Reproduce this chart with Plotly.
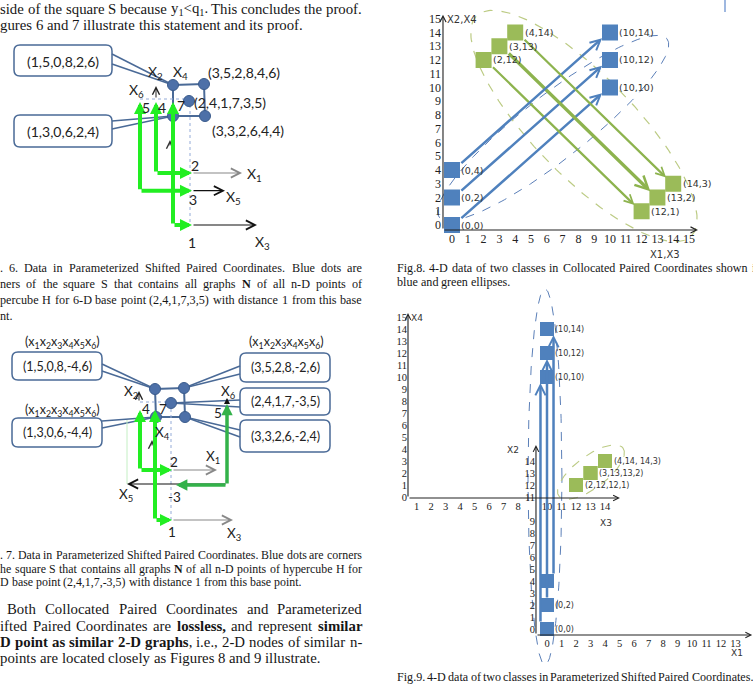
import numpy as np
import plotly.graph_objects as go

W, H = 753, 684

# ------------------------------------------------------------------ data
blue_x1 = [0, 0, 0]
blue_x2 = [0, 2, 4]
blue_x3 = [10, 10, 10]
blue_x4 = [10, 12, 14]
green_x1 = [2, 3, 4]
green_x2 = [12, 13, 14]
green_x3 = [12, 13, 14]
green_x4 = [1, 2, 3]

f8_ticks = list(range(0, 16))
f9_x3_ticks = [1, 2, 3, 4, 5, 6, 7, 8, 10, 11, 12, 13, 14]
f9_x4_ticks = list(range(0, 16))
f9_x1_ticks = list(range(0, 14))
f9_x2_ticks = [0, 1, 2, 3, 4, 5, 6, 7, 8, 9, 11, 12, 13, 14]
f9_upper_labels = ["(10,10)", "(10,12)", "(10,14)"]
f9_lower_labels = ["(0,0)", "(0,2)", ""]
f9_green_labels = ["(2,12,12,1)", "(3,13,13,2)", "(4,14, 14,3)"]

fig6_base = "(2,4,1,7,3,5)"
fig6_upper_left = "(1,5,0,8,2,6)"
fig6_upper_right = "(3,5,2,8,4,6)"
fig6_lower_left = "(1,3,0,6,2,4)"
fig6_lower_right = "(3,3,2,6,4,4)"
fig7_base = "(2,4,1,7,-3,5)"
fig7_upper_left = "(1,5,0,8,-4,6)"
fig7_upper_right = "(3,5,2,8,-2,6)"
fig7_lower_left = "(1,3,0,6,-4,4)"
fig7_lower_right = "(3,3,2,6,-2,4)"
tuple_header = "(x<sub>1</sub>x<sub>2</sub>x<sub>3</sub>x<sub>4</sub>x<sub>5</sub>x<sub>6</sub>)"

# text lines: (text, x_left, x_right or None, y_center, size)
top_lines = [
    ("side of the square S because y_1<q_1. This concludes the proof.", 0, 362, 8.5, 14.8),
    ("gures 6 and 7 illustrate this statement and its proof.", 0, None, 25, 14.8),
]
fig6_caption = [
    (". 6. Data in Parameterized Shifted Paired Coordinates.  Blue dots are", 0, 362, 268, 12.2),
    ("ners of the square S that contains all graphs *N* of all n-D points of", 0, 362, 284, 12.2),
    ("percube H for 6-D base point (2,4,1,7,3,5) with distance 1 from this base", 0, 362, 300, 12.2),
    ("nt.", 0, None, 316, 12.2),
]
fig7_caption = [
    (". 7. Data in Parameterized Shifted Paired Coordinates. Blue dots are corners", 0, 362, 555, 11.9),
    ("he square S that contains all graphs *N* of all n-D points of hypercube H for", 0, 362, 568.5, 11.9),
    ("D base point (2,4,1,7,-3,5) with distance 1 from this base point.", 0, None, 582, 11.9),
]
paragraph = [
    ("Both Collocated Paired Coordinates and Parameterized", 7, 362, 609, 14.8),
    ("ifted Paired Coordinates are *lossless,* and represent *similar*", 0, 362, 625.5, 14.8),
    ("*D point as similar 2-D graphs*, i.e., 2-D nodes of similar n-", 0, 362, 641.5, 14.8),
    ("points are located closely as Figures 8 and 9 illustrate.", 0, None, 657.5, 14.8),
]
fig8_caption = [
    ("Fig.8. 4-D data of two classes in Collocated Paired Coordinates shown i", 397, 755, 268, 12.1),
    ("blue and green ellipses.", 397, None, 282, 12.1),
]
fig9_caption = [
    ("Fig.9. 4-D data of two classes in Parameterized Shifted Paired Coordinates.", 397, 753, 677, 12.1),
]

# ------------------------------------------------------------------ styles
BLUE = "#4f81bd"
GREEN = "#9bbb59"
GREEN_AR = "#8db34e"
LIME = "#22ee22"
DKGREEN = "#33b24a"
BOXC = "#4a6a97"
DOTC = "#4d70a8"
SERIF = "Liberation Serif"
SANS = "DejaVu Sans"
DIAG = "Lato"

fig = go.Figure()
shapes = []
annos = []

PAGE = ("x4", "y4")


def arrow(x0, y0, x1, y1, color, width, head=5, size=1.0, ref=PAGE):
    annos.append(dict(x=x1, y=y1, ax=x0, ay=y0, xref=ref[0], yref=ref[1],
                      axref=ref[0], ayref=ref[1], showarrow=True, arrowhead=head,
                      arrowsize=size, arrowwidth=width, arrowcolor=color, text="",
                      standoff=0, startstandoff=0))


def label(x, y, text, size, color="#222", family=DIAG, xanchor="center", ref=PAGE):
    annos.append(dict(x=x, y=y, text=text, showarrow=False, xref=ref[0], yref=ref[1],
                      xanchor=xanchor, yanchor="middle", borderpad=0, borderwidth=0,
                      font=dict(family=family, size=size, color=color)))


def seg(x0, y0, x1, y1, color, width=1.5, dash="solid"):
    shapes.append(dict(type="line", xref="x4", yref="y4", x0=x0, y0=y0, x1=x1, y1=y1,
                       layer="below", line=dict(color=color, width=width, dash=dash)))


def rbox(x0, y0, x1, y1, r=6):
    p = (f"M{x0+r},{y0} L{x1-r},{y0} Q{x1},{y0} {x1},{y0+r} L{x1},{y1-r} "
         f"Q{x1},{y1} {x1-r},{y1} L{x0+r},{y1} Q{x0},{y1} {x0},{y1-r} "
         f"L{x0},{y0+r} Q{x0},{y0} {x0+r},{y0} Z")
    shapes.append(dict(type="path", xref="x4", yref="y4", path=p, layer="below",
                       line=dict(color=BOXC, width=1.5), fillcolor="white"))


# ----- justified serif text
TW = {' ': 250, 'a': 444, 'b': 500, 'c': 444, 'd': 500, 'e': 444, 'f': 333, 'g': 500,
      'h': 500, 'i': 278, 'j': 278, 'k': 500, 'l': 278, 'm': 778, 'n': 500, 'o': 500,
      'p': 500, 'q': 500, 'r': 333, 's': 389, 't': 278, 'u': 500, 'v': 500, 'w': 722,
      'x': 500, 'y': 500, 'z': 444, 'A': 722, 'B': 667, 'C': 667, 'D': 722, 'E': 611,
      'F': 556, 'G': 722, 'H': 722, 'I': 333, 'J': 389, 'K': 722, 'L': 611, 'M': 889,
      'N': 722, 'O': 722, 'P': 556, 'Q': 722, 'R': 667, 'S': 556, 'T': 611, 'U': 722,
      'V': 722, 'W': 944, 'X': 722, 'Y': 722, 'Z': 611, '.': 250, ',': 250, '(': 333,
      ')': 333, '-': 333, '<': 564}
TWB = {'a': 500, 'b': 556, 'd': 556, 'h': 556, 'm': 833, 'n': 556, 'p': 556,
       'r': 444, 't': 333, 'u': 556}


def cw(ch, bold):
    if bold and ch in TWB:
        return TWB[ch]
    return TW.get(ch, 500)


def parse_words(s):
    words, cur, bold, sub = [], [], False, False
    for ch in s:
        if ch == '*':
            bold = not bold
            continue
        if ch == '_':
            sub = True
            continue
        if ch == ' ':
            if cur:
                words.append(cur)
                cur = []
            continue
        cur.append((ch, bold, sub))
        sub = False
    if cur:
        words.append(cur)
    return words


def word_html(w):
    out = ""
    for ch, b, sb in w:
        c = "&lt;" if ch == "<" else ch
        if sb:
            c = f"<sub>{c}</sub>"
        if b:
            c = f"<b>{c}</b>"
        out += c
    return out


def word_width(w, size):
    return sum(cw(ch, b) * (0.65 if sb else 1.0) for ch, b, sb in w) * size / 1000.0


def place_lines(lines):
    for text, x0, x1, y, size in lines:
        words = parse_words(text)
        widths = [word_width(w, size) for w in words]
        if x1 is not None and len(words) > 1:
            gap = (x1 - x0 - sum(widths)) / (len(words) - 1)
        else:
            gap = 0.25 * size
        x = x0
        for w, wd in zip(words, widths):
            label(x, y, word_html(w), size, color="#161616", family=SERIF, xanchor="left")
            x += wd + gap


for block in (top_lines, fig6_caption, fig7_caption, paragraph, fig8_caption, fig9_caption):
    place_lines(block)

# =================================================================== Fig. 8
F8X0, F8XS, F8Y0, F8YS = 452, 15.8, 225, 13.75
f8_xr = [-1.0, 15.6]
f8_yr = [-1.5, 16.2]
f8_xline, f8_yline = -0.57, -0.36


def ell(c, u, v, n=240):
    t = np.linspace(0, 2 * np.pi, n)
    return (c[0] + u[0] * np.cos(t) + v[0] * np.sin(t),
            c[1] + u[1] * np.cos(t) + v[1] * np.sin(t))


ex, ey = ell((6.4, 7.05), (7.2, 6.5), (1.3, -1.8))
fig.add_trace(go.Scatter(x=ex, y=ey, mode="lines", xaxis="x", yaxis="y",
                         line=dict(color="#5b7fb8", width=1, dash="dash"), hoverinfo="skip"))
ex, ey = ell((8.35, 7.2), (6.8, -8.0), (2.25, 2.6))
fig.add_trace(go.Scatter(x=ex, y=ey, mode="lines", xaxis="x", yaxis="y",
                         line=dict(color="#bccb84", width=1.2, dash="dash"), hoverinfo="skip"))

for i in range(3):
    arrow(blue_x1[i] + 0.5, blue_x2[i] + 0.4, blue_x3[i] - 0.5, blue_x4[i] - 0.42,
          BLUE, 2.5, head=5, size=0.8, ref=("x", "y"))
    arrow(green_x1[i] + 0.5, green_x2[i] - 0.42, green_x3[i] - 0.45, green_x4[i] + 0.45,
          GREEN_AR, 2.2 if i != 1 else 3.2, head=5, size=0.8, ref=("x", "y"))

fig.add_trace(go.Scatter(x=blue_x1 + blue_x3, y=blue_x2 + blue_x4, mode="markers",
                         xaxis="x", yaxis="y",
                         marker=dict(symbol="square", size=16, color=BLUE, line=dict(width=0))))
fig.add_trace(go.Scatter(x=green_x1 + green_x3, y=green_x2 + green_x4, mode="markers",
                         xaxis="x", yaxis="y",
                         marker=dict(symbol="square", size=16, color=GREEN, line=dict(width=0))))
for xs, ys in ((blue_x1, blue_x2), (blue_x3, blue_x4), (green_x1, green_x2), (green_x3, green_x4)):
    for a, b in zip(xs, ys):
        label(a + 0.6, b, f"({a},{b})", 9.5, color="#333", family=SANS, xanchor="left", ref=("x", "y"))

arrow(f8_xline, f8_yline, 15.57, f8_yline, "#222", 1.1, head=5, size=1.1, ref=("x", "y"))
arrow(f8_xline, f8_yline, f8_xline, 15.3, "#222", 1.1, head=5, size=1.1, ref=("x", "y"))
label(447, 19, "X2,X4", 10, color="#333", family=SANS, xanchor="left")
label(665, 254, "X1,X3", 10, color="#333", family=SANS)

# =================================================================== Fig. 9
F9X0, F9XS, F9Y0, F9YS = 402, 14.5, 497, 12.0
F9_SHIFT_X, F9_SHIFT_Y = 10, -11          # origin of (X1,X2) inside (X3,X4)
f9_px = (395, 753)
f9_py = (672, 285)
f9A_xr = [(f9_px[0] - F9X0) / F9XS, (f9_px[1] - F9X0) / F9XS]
f9A_yr = [(F9Y0 - f9_py[0]) / F9YS, (F9Y0 - f9_py[1]) / F9YS]
f9B_xr = [v - F9_SHIFT_X for v in f9A_xr]
f9B_yr = [v - F9_SHIFT_Y for v in f9A_yr]

ex, ey = ell((9.86, 1.67), (1.17, 0), (0, 15.67))
fig.add_trace(go.Scatter(x=ex, y=ey, mode="lines", xaxis="x2", yaxis="y2",
                         line=dict(color="#5b7fb8", width=1, dash="dash"), hoverinfo="skip"))
ex, ey = ell((13.03, 2.08), (2.21, 2.0), (0.66, -1.07))
fig.add_trace(go.Scatter(x=ex, y=ey, mode="lines", xaxis="x2", yaxis="y2",
                         line=dict(color="#bccb84", width=1.1, dash="dash"), hoverinfo="skip"))

offs = [-0.45, 0.0, 0.45]
for i in range(3):
    xs = blue_x3[i] + offs[i]
    arrow(blue_x1[i] + F9_SHIFT_X + offs[i], blue_x2[i] + F9_SHIFT_Y + 0.5,
          xs, blue_x4[i] - 0.5, BLUE, 2.5, head=5, size=0.8, ref=("x2", "y2"))

fig.add_trace(go.Scatter(x=blue_x3, y=blue_x4, mode="markers", xaxis="x2", yaxis="y2",
                         marker=dict(symbol="square", size=14, color=BLUE, line=dict(width=0))))
fig.add_trace(go.Scatter(x=blue_x1, y=blue_x2, mode="markers", xaxis="x3", yaxis="y3",
                         marker=dict(symbol="square", size=14, color=BLUE, line=dict(width=0))))
fig.add_trace(go.Scatter(x=green_x1, y=green_x2, mode="markers", xaxis="x3", yaxis="y3",
                         marker=dict(symbol="square", size=14, color=GREEN, line=dict(width=0))))
fig.add_trace(go.Scatter(x=green_x3, y=green_x4, mode="markers", xaxis="x2", yaxis="y2",
                         marker=dict(symbol="square", size=14, color=GREEN, line=dict(width=0))))
for a, b, t in zip(blue_x3, blue_x4, f9_upper_labels):
    label(a + 0.55, b, t, 8, color="#333", family=SANS, xanchor="left", ref=("x2", "y2"))
for a, b, t in zip(blue_x1, blue_x2, f9_lower_labels):
    if t:
        label(a + 0.55, b, t, 8, color="#333", family=SANS, xanchor="left", ref=("x3", "y3"))
for a, b, t in zip(green_x3, green_x4, f9_green_labels):
    label(a + 0.6, b, t, 8, color="#333", family=SANS, xanchor="left", ref=("x2", "y2"))

# axis lines with arrows
a_x4_line = (408 - F9X0) / F9XS
a_x3_line = (F9Y0 - 498) / F9YS
arrow(a_x4_line, a_x3_line, 15.03, a_x3_line, "#222", 1.1, head=5, size=1.0, ref=("x2", "y2"))
arrow(a_x4_line, a_x3_line, a_x4_line, 15.33, "#222", 1.1, head=5, size=1.0, ref=("x2", "y2"))
b_x2_line = -0.76
b_x1_line = -0.5
arrow(b_x2_line, b_x1_line, 14.15, b_x1_line, "#222", 1.1, head=5, size=1.0, ref=("x3", "y3"))
arrow(b_x2_line, b_x1_line, b_x2_line, 15.33, "#222", 1.1, head=5, size=1.0, ref=("x3", "y3"))
label(411, 318, "X4", 9, color="#333", family=SANS, xanchor="left")
label(606, 523, "X3", 9, color="#333", family=SANS)
label(513, 450, "X2", 9, color="#333", family=SANS)
label(737, 653, "X1", 9, color="#333", family=SANS)

# =================================================================== Fig. 6 diagram
rbox(14, 45, 112, 76)
rbox(14, 115, 112, 147)
label(63, 61, fig6_upper_left, 14)
label(63, 131, fig6_lower_left, 14)
A6, B6, C6, D6, E6 = (173, 85), (204, 84), (189, 101), (173, 116), (205, 116)
for y in (54, 64):
    seg(112, y, *A6, BOXC, 1.5)
for y in (121, 129):
    seg(112, y, *D6, BOXC, 1.5)
seg(*A6, *B6, BOXC, 2)
seg(*B6, *E6, BOXC, 2)
seg(*E6, *D6, BOXC, 2)
seg(*D6, *A6, BOXC, 2)
seg(140, 99, 190, 99, "#94abd8", 1, "dot")
seg(190, 99, 190, 225, "#94abd8", 1, "dot")
# axes
arrow(192, 173, 242, 173, "#888", 1.2, head=5, size=1.5)
arrow(192, 190.7, 225, 190.7, "#111", 1.2, head=5, size=1.5)
arrow(192, 225, 257, 225, "#111", 1.2, head=5, size=1.5)
arrow(156, 99, 156, 86, "#222", 1, head=5, size=1.4)
arrow(170, 147, 170, 140, "#333", 1, head=5, size=1.4)
# green L-shaped arrows
for vx, yb in ((140, 190.7), (156, 173), (173, 225)):
    arrow(vx, yb, vx, 102, LIME, 4, head=2, size=0.6)
    arrow(vx, yb, 192, yb, LIME, 4, head=2, size=0.6)
fig.add_trace(go.Scatter(x=[A6[0], B6[0], C6[0], D6[0], E6[0]], y=[A6[1], B6[1], C6[1], D6[1], E6[1]],
                         mode="markers", xaxis="x4", yaxis="y4",
                         marker=dict(size=11, color=DOTC, line=dict(color="#3a5b8c", width=1))))
label(208, 72, fig6_upper_right, 14, xanchor="left")
label(194, 102, fig6_base, 14, xanchor="left")
label(212, 130, fig6_lower_right, 14, xanchor="left")
for x, y, t in ((155, 72, "X<sub>2</sub>"), (180, 72, "X<sub>4</sub>"), (136, 90, "X<sub>6</sub>"),
                (146, 107, "5"), (162, 107, "4"), (181, 105, "7"),
                (254, 174, "X<sub>1</sub>"), (195, 165, "2"), (233, 197, "X<sub>5</sub>"),
                (193, 199, "3"), (262, 242, "X<sub>3</sub>"), (192, 242, "1")):
    label(x, y, t, 14)

# =================================================================== Fig. 7 diagram
rbox(12, 352, 102, 380)
rbox(12, 418, 102, 447)
rbox(240, 353, 330, 382)
rbox(240, 388, 330, 415)
rbox(240, 420, 330, 452)
label(57, 366, fig7_upper_left, 12.5)
label(57, 432, fig7_lower_left, 12.5)
label(285, 367, fig7_upper_right, 12.5)
label(285, 401, fig7_base, 12.5)
label(285, 436, fig7_lower_right, 12.5)
label(62, 342, tuple_header, 12.5)
label(62, 410, tuple_header, 12.5)
label(286, 342, tuple_header, 12.5)
A7, B7, C7, D7, E7 = (155, 389), (184, 388), (171, 403), (156, 417), (185, 417)
for y in (364, 371):
    seg(102, y, *A7, BOXC, 1.5)
for y in (421, 428):
    seg(102, y, *D7, BOXC, 1.5)
for y in (366, 374):
    seg(240, y, *B7, BOXC, 1.5)
for y in (400, 407):
    seg(240, y, *C7, BOXC, 1.5)
for y in (430, 437):
    seg(240, y, *E7, BOXC, 1.5)
seg(*A7, *B7, BOXC, 2)
seg(*B7, *E7, BOXC, 2)
seg(*E7, *D7, BOXC, 2)
seg(*D7, *A7, BOXC, 2)
seg(140, 402, 171, 402, "#94abd8", 1, "dot")
seg(171, 403, 171, 520, "#94abd8", 1, "dot")
seg(127, 420, 127, 484, "#c4efc4", 1)
arrow(172, 470, 217, 470, "#888", 1.2, head=5, size=1.5)
arrow(227, 484, 127, 484, "#111", 1.2, head=5, size=1.5)
arrow(172, 520, 233, 520, "#888", 1.2, head=5, size=1.5)
arrow(139, 402, 139, 391, "#222", 1, head=5, size=1.4)
arrow(152, 447, 152, 440, "#333", 1, head=5, size=1.4)
arrow(140, 470, 140, 410, LIME, 4, head=2, size=0.6)
arrow(140, 470, 172, 470, LIME, 4, head=2, size=0.6)
arrow(155, 520, 155, 410, LIME, 4, head=2, size=0.6)
arrow(155, 520, 172, 520, LIME, 4, head=2, size=0.6)
arrow(227, 485, 227, 404, DKGREEN, 3.5, head=2, size=0.65)
arrow(227, 485, 176, 485, DKGREEN, 3.5, head=2, size=0.65)
arrow(227, 404, 227, 398, "#111", 1, head=2, size=1.2)
fig.add_trace(go.Scatter(x=[A7[0], B7[0], C7[0], D7[0], E7[0]], y=[A7[1], B7[1], C7[1], D7[1], E7[1]],
                         mode="markers", xaxis="x4", yaxis="y4",
                         marker=dict(size=11, color=DOTC, line=dict(color="#3a5b8c", width=1))))
for x, y, t in ((131, 392, "X<sub>2</sub>"), (146, 409, "4"), (163, 409, "7"),
                (162, 433, "X<sub>4</sub>"), (228, 392, "X<sub>6</sub>"), (218, 413, "5"),
                (213, 457, "X<sub>1</sub>"), (174, 462, "2"), (126, 495, "X<sub>5</sub>"),
                (174, 497, "-3"), (172, 532, "1"), (234, 534, "X<sub>3</sub>")):
    label(x, y, t, 13.5)

# page-edge mark
seg(725, 0, 725, 12, "#7fa1d6", 1.5)


# =================================================================== layout
def xdom(x0, xs, r):
    return [max(0, (x0 + xs * r[0]) / W), min(1, (x0 + xs * r[1]) / W)]


def ydom(y0, ys, r):
    return [max(0, 1 - (y0 - ys * r[0]) / H), min(1, 1 - (y0 - ys * r[1]) / H)]


common = dict(showgrid=False, zeroline=False, showline=False, ticks="", automargin=False,
              tickmode="array", fixedrange=True)
tf8 = dict(family=SERIF, size=12, color="#222")
tf9 = dict(family=SERIF, size=10.5, color="#222")

fig.update_layout(
    width=W, height=H, margin=dict(l=0, r=0, t=0, b=0),
    paper_bgcolor="white", plot_bgcolor="rgba(0,0,0,0)", showlegend=False,
    xaxis=dict(domain=xdom(F8X0, F8XS, f8_xr), range=f8_xr, anchor="free",
               position=1 - (F8Y0 - F8YS * f8_yline) / H, tickvals=f8_ticks, tickfont=tf8, **common),
    yaxis=dict(domain=ydom(F8Y0, F8YS, f8_yr), range=f8_yr, anchor="free",
               position=(F8X0 + F8XS * f8_xline) / W, tickvals=f8_ticks, tickfont=tf8,
               ticklabelstandoff=2, **common),
    xaxis2=dict(domain=xdom(F9X0, F9XS, f9A_xr), range=f9A_xr, anchor="free",
                position=1 - (F9Y0 - F9YS * a_x3_line) / H, tickvals=f9_x3_ticks, tickfont=tf9, **common),
    yaxis2=dict(domain=ydom(F9Y0, F9YS, f9A_yr), range=f9A_yr, anchor="free",
                position=(F9X0 + F9XS * a_x4_line) / W, tickvals=f9_x4_ticks, tickfont=tf9,
                ticklabelstandoff=1, **common),
    xaxis3=dict(domain=xdom(F9X0, F9XS, f9A_xr), range=f9B_xr, anchor="free",
                position=1 - 635 / H, tickvals=f9_x1_ticks, tickfont=tf9, **common),
    yaxis3=dict(domain=ydom(F9Y0, F9YS, f9A_yr), range=f9B_yr, anchor="free",
                position=536 / W, tickvals=f9_x2_ticks, tickfont=tf9,
                ticklabelstandoff=1, **common),
    xaxis4=dict(domain=[0, 1], range=[0, W], visible=False, anchor="y4", fixedrange=True),
    yaxis4=dict(domain=[0, 1], range=[H, 0], visible=False, anchor="x4", fixedrange=True),
    shapes=shapes, annotations=annos,
)

fig.write_html("out.html")
